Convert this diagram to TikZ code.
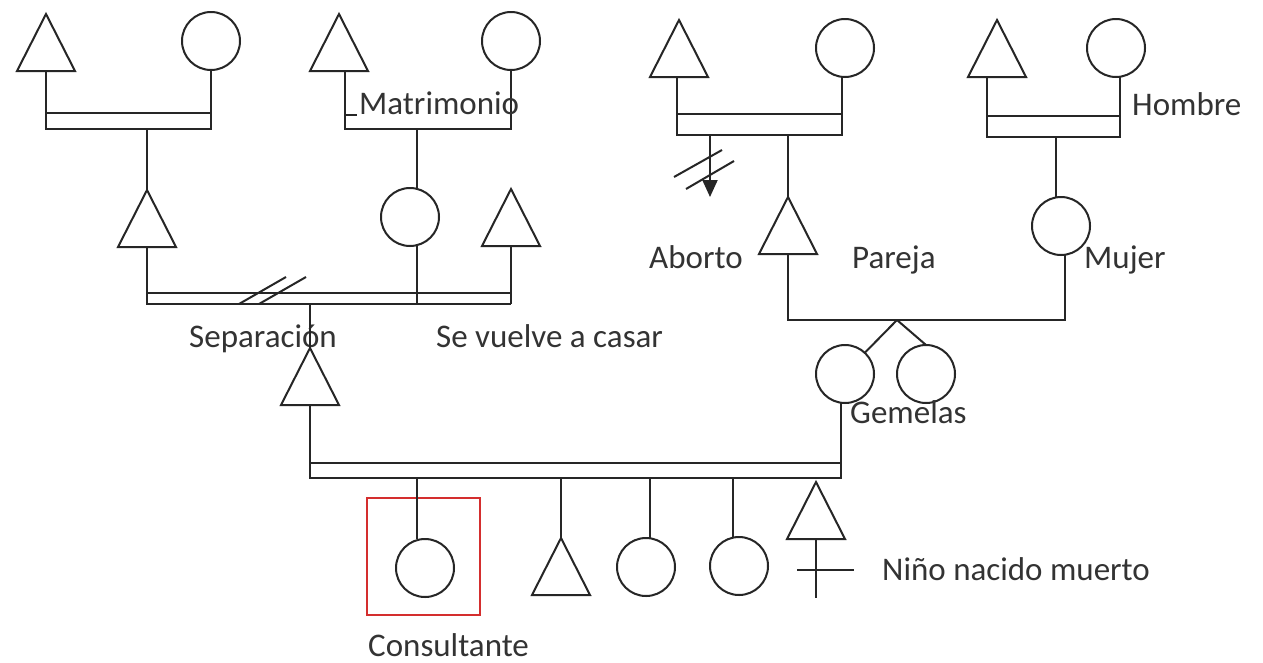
\documentclass[tikz,border=0pt]{standalone}
\usepackage{fontspec}
\setmainfont{Carlito}
\usetikzlibrary{shapes.geometric,arrows.meta,calc}
\definecolor{ink}{HTML}{262626}
\definecolor{txt}{HTML}{333333}
\definecolor{boxred}{HTML}{D42E2E}
\begin{document}
\begin{tikzpicture}[x=1pt,y=-1pt,
  ln/.style={draw=ink,line width=2pt},
  tri/.style={draw=ink,line width=2pt,isosceles triangle,isosceles triangle stretches,
    shape border rotate=90,minimum width=58pt,minimum height=57pt,inner sep=0pt,outer sep=0pt},
  circ/.style={draw=ink,line width=2pt,circle,minimum size=58pt,inner sep=0pt,outer sep=0pt},
  lab/.style={text=txt,font=\fontsize{33}{40}\selectfont,inner sep=0pt,anchor=base west}]
\fill[white] (0,0) rectangle (1263,662);
\useasboundingbox (0,0) rectangle (1263,662);

% ---- family A (top left)
\node[tri,anchor=apex] (tA1) at (46,14) {};
\node[circ] (cA1) at (211,41) {};
\draw[ln] (tA1.lower side) -- (tA1.lower side |- 0,129) -- (cA1.south |- 0,129) -- (cA1.south);
\draw[ln] (tA1.lower side |- 0,113) -- (cA1.south |- 0,113);
\node[tri,anchor=apex] (tA2) at (147,190) {};
\draw[ln] (tA2.apex |- 0,129) -- (tA2.apex);

% ---- family B (top middle)
\node[tri,anchor=apex] (tB1) at (339,14) {};
\node[circ] (cB1) at (511,41) {};
\draw[ln] (tB1.lower side -| 345,0) -- (345,129) -- (cB1.south |- 0,129) -- (cB1.south);
\draw[ln] (345,115) -- (357,115);
\node[lab] (mat) at (359,114) {Matrimonio};
\node[circ] (cB2) at (410,217) {};
\draw[ln] (417,129) -- (cB2.north -| 417,0);
\draw[ln] (cB2.south -| 417,0) -- (417,304);
\node[tri,anchor=apex] (tB2) at (511,189) {};
\draw[ln] (tB2.lower side) -- (tB2.lower side |- 0,304);

% ---- marriage with separation
\draw[ln] (tA2.lower side) -- (tA2.lower side |- 0,304) -- (tB2.lower side |- 0,304);
\draw[ln] (tA2.lower side |- 0,293) -- (tB2.lower side |- 0,293);
\draw[ln] (239,304) -- (286,277);
\draw[ln] (259,304) -- (306,277);
\node[lab] (sep) at (189,347) {Separación};
\node[lab] (rev) at (436,347) {Se vuelve a casar};
\node[tri,anchor=apex] (tC) at (310,348) {};
\draw[ln] (tC.apex |- 0,304) -- (tC.apex);

% ---- family D (top right)
\node[tri,anchor=apex] (tD1) at (679,20) {};
\node[circ] (cD1) at (845,48) {};
\draw[ln] (tD1.lower side -| 677,0) -- (677,135) -- (842,135) -- (cD1.south -| 842,0);
\draw[ln] (677,114) -- (842,114);
\coordinate (abTop) at (710,135);
\coordinate (abEnd) at (710,197);
\draw[ln,-{Triangle[length=17pt,width=15pt]}] (abTop) -- (abEnd);
\draw[ln] (674,177) -- (722,150);
\draw[ln] (686,189) -- (734,161);
\node[tri,anchor=apex] (tD2) at (788,197) {};
\draw[ln] (tD2.apex |- 0,135) -- (tD2.apex);
\node[lab] (abo) at (649,268) {Aborto};
\node[lab] (par) at (852,268) {Pareja};

% ---- family E (far right)
\node[tri,anchor=apex] (tE1) at (997,20) {};
\node[circ] (cE1) at (1116,48) {};
\draw[ln] (tE1.lower side -| 987,0) -- (987,137) -- (1120,137) -- (cE1.south -| 1120,0);
\draw[ln] (987,116) -- (1120,116);
\node[lab] (hom) at (1132,115) {Hombre};
\node[circ] (cE2) at (1061,226) {};
\draw[ln] (1056,137) -- (cE2.north -| 1056,0);
\node[lab] (muj) at (1084,268) {Mujer};

% ---- couple D2 + E2 with twins
\draw[ln] (tD2.lower side) -- (tD2.lower side |- 0,320) -- (1065,320) -- (cE2.south -| 1065,0);
\coordinate (tw) at (897,320);
\node[circ] (cF1) at (845,374) {};
\node[circ] (cF2) at (926,374) {};
\draw[ln] (tw) -- (cF1.47);
\draw[ln] (tw) -- (cF2.north);
\node[lab] (gem) at (850,423) {Gemelas};

% ---- bottom marriage
\draw[ln] (tC.lower side) -- (tC.lower side |- 0,478) -- (841,478) -- (cF1.south -| 841,0);
\draw[ln] (tC.lower side |- 0,463) -- (841,463);

% ---- children
\node[draw=boxred,line width=2pt,minimum width=113pt,minimum height=117pt,inner sep=0pt,outer sep=0pt] (cons) at (423.5,556.5) {};
\node[circ] (cG1) at (425,568) {};
\draw[ln] (417,478) -- (cG1.north -| 417,0);
\node[lab] (conl) at (368,656) {Consultante};
\node[tri,anchor=apex] (tG2) at (561,538) {};
\draw[ln] (tG2.apex |- 0,478) -- (tG2.apex);
\node[circ] (cG3) at (646,567) {};
\draw[ln] (650,478) -- (cG3.north -| 650,0);
\node[circ] (cG4) at (739,566) {};
\draw[ln] (733,478) -- (cG4.north -| 733,0);
\node[tri,anchor=apex] (tG5) at (816,482) {};
\draw[ln] (tG5.lower side) -- (tG5.lower side |- 0,598);
\draw[ln] (797,570) -- (854,570);
\node[lab] (sb) at (882,580) {Niño nacido muerto};
\end{tikzpicture}
\end{document}
